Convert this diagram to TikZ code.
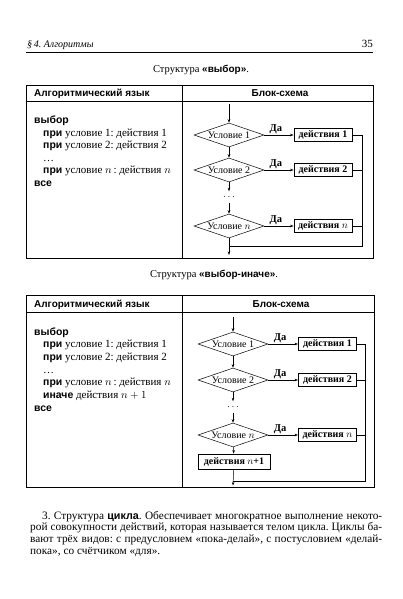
\documentclass[tikz,border=0pt]{standalone}
\usepackage{fontspec}
\setmainfont{Liberation Serif}
\newfontfamily\bsf[Scale=0.95]{Liberation Sans}
\usetikzlibrary{shapes.geometric,arrows.meta}
\newcommand\KW[1]{{\bsf\bfseries #1}}
\frenchspacing
\begin{document}
\begin{tikzpicture}[x=1pt,y=-1pt,
  every node/.style={inner sep=0pt},
  frame/.style={line width=0.8pt},
  rule/.style={line width=0.5pt},
  dmd/.style={diamond, draw, line width=0.5pt, aspect=3, minimum width=70pt, minimum height=24pt, inner sep=0pt, font=\fontsize{10}{10}\selectfont},
  act/.style={draw, line width=0.9pt, minimum width=58pt, minimum height=13pt, inner sep=1pt, font=\fontsize{10}{10}\selectfont\bfseries},
  arr/.style={-{Stealth[length=3.5pt,width=2.5pt]}, line width=0.5pt},
  ln/.style={line width=0.5pt},
  da/.style={font=\fontsize{10.5}{10}\selectfont\bfseries, anchor=south, pos=0.4, yshift=1.5pt},
  code/.style={anchor=base west, font=\fontsize{11}{12}\selectfont},
  hdr/.style={anchor=base, font=\fontsize{10.5}{12}\selectfont\bsf\bfseries},
  dots/.style={minimum height=11pt, font=\fontsize{10}{10}\selectfont}
]
\useasboundingbox (0,0) rectangle (402,599);
% page header
\node[anchor=base west, font=\fontsize{10}{12}\selectfont\itshape] (hd) at (27,48) {\S\,4. Алгоритмы};
\node[anchor=base east, font=\fontsize{11}{12}\selectfont] (pg) at (373,47.5) {35};
\draw[line width=0.8pt] (26,52) -- (373,52);

% ---------- table 1 ----------
\node[anchor=base, font=\fontsize{10.5}{12}\selectfont] (t1) at (201,72.5) {Структура \KW{«выбор»}.};
\draw[frame] (26,85) rectangle (373,258);
\draw[rule] (26,101) -- (373,101);
\draw[rule] (182,85) -- (182,258);
\node[hdr, anchor=base west] (h1a) at (34,96.5) {Алгоритмический язык};
\node[hdr] (h1b) at (280,96.5) {Блок-схема};

\node[code] (p1) at (34,123.5) {\KW{выбор}};
\node[code] (p2) at (43,136) {\KW{при} условие 1: действия 1};
\node[code] (p3) at (43,148.5) {\KW{при} условие 2: действия 2};
\node[code] (p4) at (43,161) {\ldots};
\node[code] (p5) at (43,173.5) {\KW{при} условие $n$\,: действия $n$};
\node[code] (p6) at (34,186) {\KW{все}};

\coordinate (s1) at (229,104);
\node[dmd] (a1) at (229,135) {Условие 1};
\node[dmd] (a2) at (229,170) {Условие 2};
\node[dots] (ad) at (229,197) {$\cdots$};
\node[dmd] (an) at (229,226) {Условие $n$};
\node[act] (b1) at (323,135) {действия 1};
\node[act] (b2) at (323,170) {действия 2};
\node[act] (bn) at (323,226) {действия $n$};
\coordinate (j1) at (229,246);
\coordinate (e1) at (229,255);
\coordinate (k1) at (362,246);
\draw[arr] (s1) -- (a1);
\draw[arr] (a1) -- (a2);
\draw[arr] (a2) -- (ad);
\draw[arr] (ad) -- (an);
\draw[arr] (an) -- (e1);
\draw[arr] (a1) -- node[da]{Да} (b1);
\draw[arr] (a2) -- node[da]{Да} (b2);
\draw[arr] (an) -- node[da]{Да} (bn);
\draw[ln] (b1.east) -| (k1) -- (j1);
\draw[ln] (b2.east) -- (b2.east -| k1);
\draw[ln] (bn.east) -- (bn.east -| k1);

% ---------- table 2 ----------
\node[anchor=base, font=\fontsize{10.5}{12}\selectfont] (t2) at (214,277) {Структура \KW{«выбор-иначе»}.};
\draw[frame] (26,295) rectangle (374,487);
\draw[rule] (26,312) -- (374,312);
\draw[rule] (182,295) -- (182,487);
\node[hdr, anchor=base west] (h2a) at (34,307.5) {Алгоритмический язык};
\node[hdr] (h2b) at (281,307.5) {Блок-схема};

\node[code] (q1) at (34,335) {\KW{выбор}};
\node[code] (q2) at (43,347.7) {\KW{при} условие 1: действия 1};
\node[code] (q3) at (43,360.4) {\KW{при} условие 2: действия 2};
\node[code] (q4) at (43,373) {\ldots};
\node[code] (q5) at (43,385.8) {\KW{при} условие $n$\,: действия $n$};
\node[code] (q6) at (43,398.5) {\KW{иначе} действия $n+1$};
\node[code] (q7) at (34,411.2) {\KW{все}};

\coordinate (s2) at (233,317);
\node[dmd] (c1) at (233,344) {Условие 1};
\node[dmd] (c2) at (233,380) {Условие 2};
\node[dots] (cd) at (233,407) {$\cdots$};
\node[dmd] (cn) at (233,435) {Условие $n$};
\node[act, minimum width=72pt, minimum height=15pt] (dx) at (234,461.5) {действия $n$+1};
\node[act] (d1) at (327.5,344) {действия 1};
\node[act] (d2) at (327.5,380) {действия 2};
\node[act] (dn) at (327.5,435) {действия $n$};
\coordinate (j2) at (233,481);
\coordinate (e2) at (233,485.5);
\coordinate (k2) at (365,481);
\draw[arr] (s2) -- (c1);
\draw[arr] (c1) -- (c2);
\draw[arr] (c2) -- (cd);
\draw[arr] (cd) -- (cn);
\draw[arr] (cn) -- (dx);
\draw[arr] (dx) -- (e2);
\draw[arr] (c1) -- node[da]{Да} (d1);
\draw[arr] (c2) -- node[da]{Да} (d2);
\draw[arr] (cn) -- node[da]{Да} (dn);
\draw[ln] (d1.east) -| (k2) -- (j2);
\draw[ln] (d2.east) -- (d2.east -| k2);
\draw[ln] (dn.east) -- (dn.east -| k2);

% ---------- paragraph ----------
\node[anchor=north west, text width=352pt, align=justify, font=\fontsize{11.3}{11.7}\selectfont] (par) at (30,511) {\hspace*{12pt}3. Структура \KW{цикла}. Обеспечивает многократное выполнение некото-\linebreak рой совокупности действий, которая называется телом цикла. Циклы ба-\linebreak вают трёх видов: с предусловием «пока-делай», с постусловием «делай-\linebreak пока», со счётчиком «для».};
\end{tikzpicture}
\end{document}
